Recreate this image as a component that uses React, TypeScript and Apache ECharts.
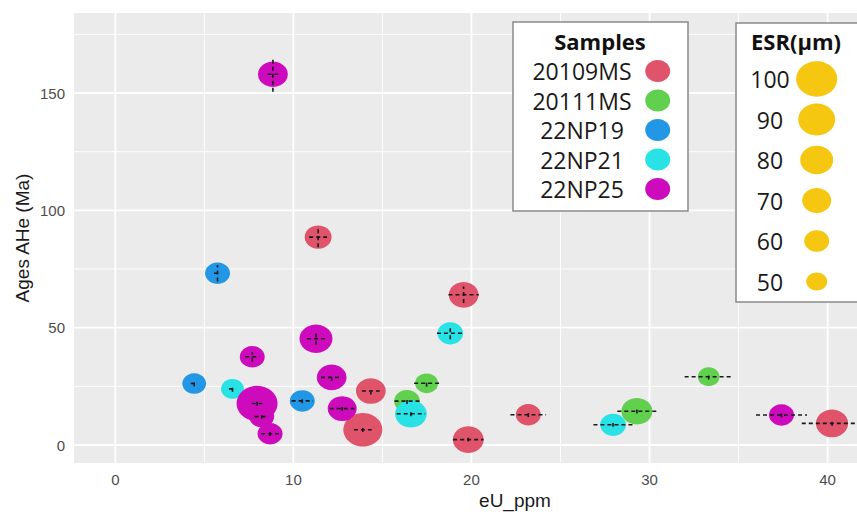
import { useEffect, useRef } from 'react';
import * as echarts from 'echarts';

const sampleNames = ['20109MS', '20111MS', '22NP19', '22NP21', '22NP25'];
const sampleColors = ['#DF536B', '#61D04F', '#2297E6', '#28E2E5', '#CD0BBC'];

// one entry per grain
const pointSample = [0, 0, 0, 0, 0, 0, 0, 1, 1, 1, 1, 2, 2, 2, 3, 3, 3, 3, 4, 4, 4, 4, 4, 4, 4, 4, 4];
const eU = [11.39, 19.56, 14.35, 13.9, 23.19, 19.82, 40.25, 17.48, 16.38, 33.32, 29.29, 5.74, 4.43, 10.5, 18.81, 6.58, 16.6, 27.95, 8.85, 11.27, 7.69, 7.96, 8.22, 8.69, 12.15, 12.74, 37.41];
const age = [88.6, 64.0, 23.0, 6.5, 12.9, 2.3, 9.2, 26.3, 18.7, 29.1, 14.4, 73.2, 26.2, 18.8, 47.6, 23.9, 13.3, 8.6, 158, 45.3, 37.6, 17.7, 12.1, 4.8, 28.8, 15.5, 12.8];
const esr = [65, 72, 72, 95, 60, 75, 78, 55, 62, 52, 75, 60, 57, 60, 62, 55, 77, 62, 72, 80, 60, 100, 60, 60, 72, 70, 60];
const eUErr = [0.5, 0.85, 0.5, 0.5, 1.0, 0.85, 1.7, 0.7, 0.7, 1.35, 1.1, 0.2, 0.2, 0.6, 0.75, 0.2, 0.8, 1.1, 0.3, 0.5, 0.4, 0.3, 0.4, 0.5, 0.6, 0.7, 1.43];
const ageErr = [4.3, 3.5, 1.5, 1.0, 1.0, 0.8, 1.0, 1.5, 1.2, 1.2, 1.0, 3.5, 1.2, 1.0, 2.5, 1.2, 1.0, 0.8, 7.5, 2.5, 2.0, 1.0, 1.0, 1.0, 1.5, 1.0, 1.0];

const esrLevels = [100, 90, 80, 70, 60, 50];
const xTicks = [0, 10, 20, 30, 40];
const yTicks = [0, 50, 100, 150];
const xMinor = [5, 15, 25, 35];
const yMinor = [25, 75, 125, 175];

const X_MIN = -2.32;
const X_MAX = 41.65;
const Y_MIN = -7.67;
const Y_MAX = 184.1;

const sizeW = (e: number) => 21 + (e - 50) * 0.4;
const ASPECT = 0.86;

const AXIS_FONT = 'Liberation Sans, Arial, sans-serif';
const LEG_FONT = 'Open Sans, sans-serif';

export default function App() {
  const ref = useRef<HTMLDivElement>(null);

  useEffect(() => {
    if (!ref.current) return;
    const chart = echarts.init(ref.current, null, { renderer: 'svg' });

    const gridData: number[][] = [];
    xTicks.forEach((v) => gridData.push([v, 0, 1]));
    xMinor.forEach((v) => gridData.push([v, 0, 0]));
    yTicks.forEach((v) => gridData.push([v, 1, 1]));
    yMinor.forEach((v) => gridData.push([v, 1, 0]));

    const scatterSeries = sampleNames.map((name, si) => ({
      type: 'scatter',
      name,
      z: 3,
      symbol: 'circle',
      symbolSize: (val: number[]) => {
        const w = sizeW(val[2]);
        return [w, w * ASPECT];
      },
      itemStyle: { color: sampleColors[si], opacity: 1 },
      data: eU
        .map((x, i) => ({ i, v: [x, age[i], esr[i]] }))
        .filter((d) => pointSample[d.i] === si)
        .map((d) => d.v),
    }));

    const errData = eU.map((x, i) => [x, age[i], eUErr[i], ageErr[i]]);

    const graphic: any[] = [];
    // Samples legend
    graphic.push({
      type: 'rect',
      z: 100,
      shape: { x: 513, y: 22, width: 175, height: 189 },
      style: { fill: '#fff', stroke: '#8a8a8a', lineWidth: 1.5 },
    });
    graphic.push({
      type: 'text',
      z: 101,
      x: 600,
      y: 41,
      style: { text: 'Samples', fontFamily: LEG_FONT, fontWeight: 'bold', fontSize: 22, lineHeight: 24, fill: '#111', align: 'center', verticalAlign: 'middle' },
    });
    sampleNames.forEach((n, i) => {
      const cy = 71 + i * 29.5;
      graphic.push({
        type: 'text',
        z: 101,
        x: 582,
        y: cy,
        style: { text: n, fontFamily: LEG_FONT, fontSize: 23, lineHeight: 25, fill: '#1a1a1a', align: 'center', verticalAlign: 'middle' },
      });
      graphic.push({
        type: 'ellipse',
        z: 101,
        shape: { cx: 657.7, cy, rx: 12.5, ry: 11 },
        style: { fill: sampleColors[i] },
      });
    });
    // ESR legend
    graphic.push({
      type: 'rect',
      z: 100,
      shape: { x: 736, y: 23, width: 140, height: 279 },
      style: { fill: '#fff', stroke: '#8a8a8a', lineWidth: 1.5 },
    });
    graphic.push({
      type: 'text',
      z: 101,
      x: 796,
      y: 41,
      style: { text: 'ESR(µm)', fontFamily: LEG_FONT, fontWeight: 'bold', fontSize: 22, lineHeight: 24, fill: '#111', align: 'center', verticalAlign: 'middle' },
    });
    esrLevels.forEach((e, i) => {
      const cy = 79 + i * 40.5;
      graphic.push({
        type: 'text',
        z: 101,
        x: 770,
        y: cy,
        style: { text: String(e), fontFamily: LEG_FONT, fontSize: 23, lineHeight: 25, fill: '#1a1a1a', align: 'center', verticalAlign: 'middle' },
      });
      const w = sizeW(e);
      graphic.push({
        type: 'ellipse',
        z: 101,
        shape: { cx: 816.7, cy, rx: w / 2, ry: (w * ASPECT) / 2 },
        style: { fill: '#F5C710' },
      });
    });

    chart.setOption({
      animation: false,
      backgroundColor: '#ffffff',
      grid: {
        left: 74,
        right: 0,
        top: 13,
        bottom: 49,
        show: true,
        backgroundColor: '#EBEBEB',
        borderWidth: 0,
        containLabel: false,
        outerBoundsMode: 'none',
      },
      xAxis: {
        type: 'value',
        min: X_MIN,
        max: X_MAX,
        splitLine: { show: false },
        axisLine: { show: false },
        axisTick: { show: true, length: 4, lineStyle: { color: '#333', width: 1 }, customValues: xTicks },
        axisLabel: { customValues: xTicks, color: '#4d4d4d', fontSize: 15, fontFamily: AXIS_FONT, margin: 9 },
        name: 'eU_ppm',
        nameLocation: 'middle',
        nameGap: 28,
        nameMoveOverlap: false,
        nameTextStyle: { fontSize: 19, color: '#1a1a1a', fontFamily: AXIS_FONT, padding: [0, 0, 0, 99] },
      },
      yAxis: {
        type: 'value',
        min: Y_MIN,
        max: Y_MAX,
        splitLine: { show: false },
        axisLine: { show: false },
        axisTick: { show: true, length: 4, lineStyle: { color: '#333', width: 1 }, customValues: yTicks },
        axisLabel: { customValues: yTicks, color: '#4d4d4d', fontSize: 15, fontFamily: AXIS_FONT, margin: 9 },
        name: 'Ages AHe (Ma)',
        nameLocation: 'middle',
        nameGap: 42,
        nameMoveOverlap: false,
        nameTextStyle: { fontSize: 19, color: '#1a1a1a', fontFamily: AXIS_FONT },
      },
      graphic,
      series: [
        {
          type: 'custom',
          name: 'grid',
          z: 1,
          silent: true,
          data: gridData,
          renderItem: (params: any, api: any) => {
            const v = api.value(0);
            const orient = api.value(1);
            const major = api.value(2) === 1;
            const cs = params.coordSys;
            const style = { stroke: '#ffffff', lineWidth: major ? 1.8 : 0.9 };
            if (orient === 0) {
              const p = api.coord([v, 0]);
              return { type: 'line', shape: { x1: p[0], y1: cs.y, x2: p[0], y2: cs.y + cs.height }, style };
            }
            const p = api.coord([0, v]);
            return { type: 'line', shape: { x1: cs.x, y1: p[1], x2: cs.x + cs.width, y2: p[1] }, style };
          },
        },
        ...scatterSeries,
        {
          type: 'custom',
          name: 'errors',
          z: 5,
          silent: true,
          data: errData,
          renderItem: (params: any, api: any) => {
            const x = api.value(0);
            const y = api.value(1);
            const ex = api.value(2);
            const ey = api.value(3);
            const a = api.coord([x - ex, y]);
            const b = api.coord([x + ex, y]);
            const c = api.coord([x, y - ey]);
            const d = api.coord([x, y + ey]);
            const style = { stroke: '#1a1a1a', lineWidth: 1.6, lineDash: [4, 3] };
            return {
              type: 'group',
              children: [
                { type: 'line', shape: { x1: a[0], y1: a[1], x2: b[0], y2: b[1] }, style },
                { type: 'line', shape: { x1: c[0], y1: c[1], x2: d[0], y2: d[1] }, style },
              ],
            };
          },
        },
      ],
    });

    return () => chart.dispose();
  }, []);

  return (
    <div
      ref={ref}
      style={{ position: 'fixed', left: 0, top: 0, width: 857, height: 512, background: '#fff' }}
    />
  );
}
